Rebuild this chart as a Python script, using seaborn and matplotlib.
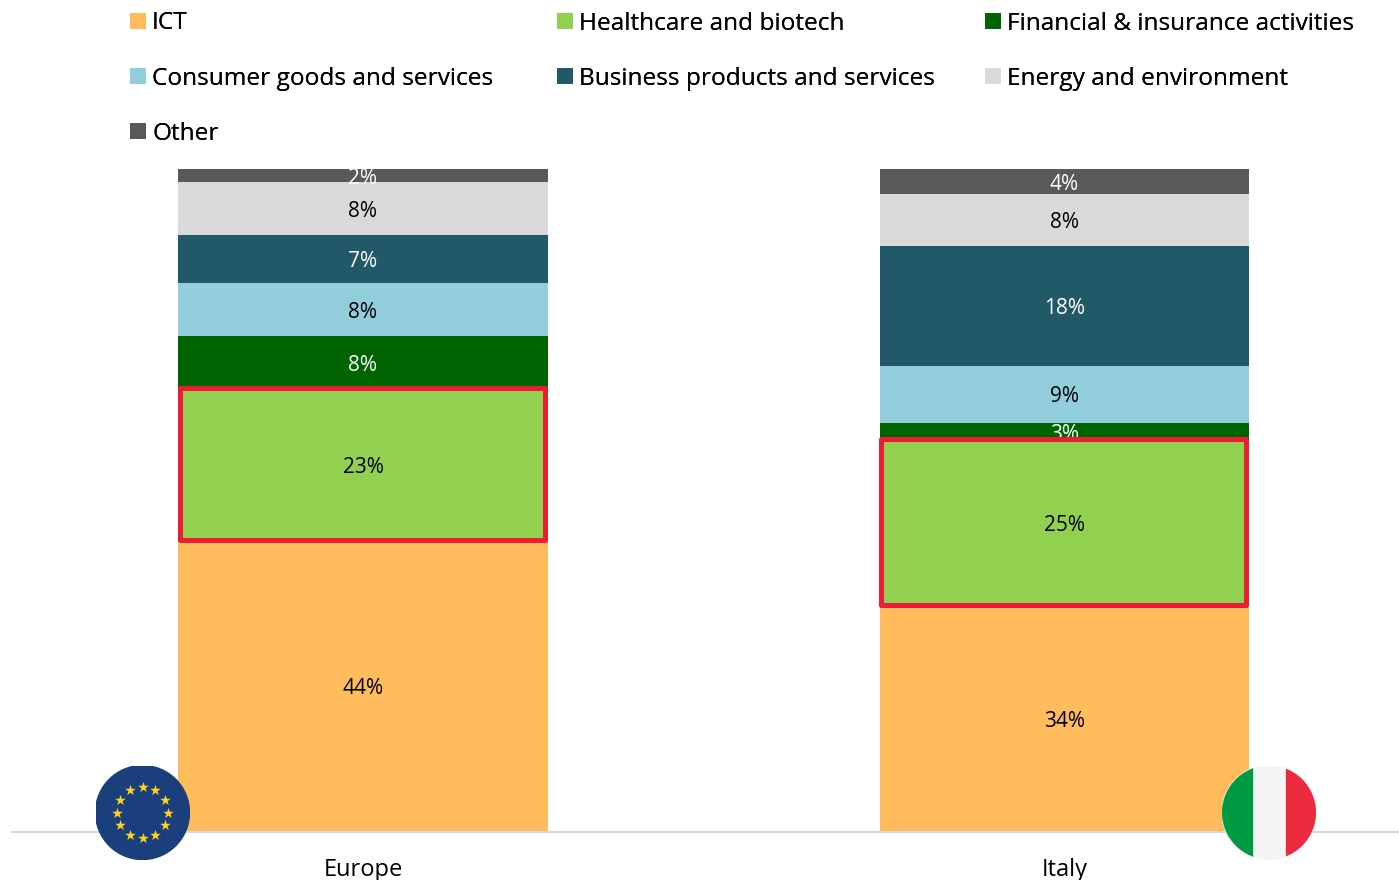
"""Stacked share of investments by sector, Europe vs Italy."""

import matplotlib.pyplot as plt
import numpy as np
import seaborn as sns
from matplotlib.patches import Circle, Patch, Rectangle

W, H = 1399, 880

REGIONS = ["Europe", "Italy"]
SECTORS = [
    "ICT",
    "Healthcare and biotech",
    "Financial & insurance activities",
    "Consumer goods and services",
    "Business products and services",
    "Energy and environment",
    "Other",
]
ICT = [43.9, 34.1]
HEALTHCARE = [22.9, 25.0]
FINANCIAL = [8.0, 2.6]
CONSUMER = [8.0, 8.6]
BUSINESS = [7.2, 18.1]
ENERGY = [8.0, 7.8]
OTHER = [2.0, 3.8]
SERIES = [ICT, HEALTHCARE, FINANCIAL, CONSUMER, BUSINESS, ENERGY, OTHER]

COLORS = ["#FFBB5C", "#92D050", "#006400", "#92CDDC", "#215968", "#D9D9D9", "#595959"]
LABEL_COLORS = ["black", "black", "white", "black", "white", "black", "white"]

sns.set_theme(style="white")
plt.rcParams["font.family"] = ["Open Sans", "DejaVu Sans"]


def add_flag_axes(fig, cx, cy, r=47):
    ax = fig.add_axes([(cx - r) / W, 1 - (cy + r) / H, 2 * r / W, 2 * r / H], zorder=5)
    ax.set_xlim(-1, 1)
    ax.set_ylim(-1, 1)
    ax.axis("off")
    return ax


def draw_eu_flag(fig, cx, cy):
    ax = add_flag_axes(fig, cx, cy)
    ax.add_patch(Circle((0, 0), 1, color="#1A3F7C"))
    angles = np.deg2rad(np.arange(0, 360, 30))
    ax.scatter(0.55 * np.cos(angles), 0.55 * np.sin(angles), marker="*", s=65,
               color="#FFD617", linewidths=0)


def draw_it_flag(fig, cx, cy):
    ax = add_flag_axes(fig, cx, cy)
    clip = Circle((0, 0), 1, color="#F5F5F5")
    ax.add_patch(clip)
    for x0, color in [(-1, "#009A44"), (0.36, "#EB2B3D")]:
        band = Rectangle((x0, -1), 0.64, 2, color=color)
        ax.add_patch(band)
        band.set_clip_path(clip)


fig = plt.figure(figsize=(W / 100, H / 100), dpi=100)
ax = fig.add_axes([12 / W, 1 - 832 / H, (W - 12) / W, (832 - 169) / H])

bottoms = np.zeros(len(REGIONS))
containers = []
for sector, values, color, label_color in zip(SECTORS, SERIES, COLORS, LABEL_COLORS):
    sns.barplot(x=REGIONS, y=values, bottom=bottoms, color=color, saturation=1,
                width=0.527, ax=ax, legend=False, linewidth=0)
    containers.append(ax.containers[-1])
    for i, val in enumerate(values):
        ax.text(i, bottoms[i] + val / 2, f"{val:.0f}%", ha="center", va="center_baseline",
                color=label_color, fontsize=15, clip_on=True, zorder=3)
    bottoms += values

# red box round the healthcare segment, sits over the labels
for bar in containers[1]:
    ax.add_patch(Rectangle((bar.get_x() + 0.002, bar.get_y() + 0.2), bar.get_width() - 0.006, bar.get_height(),
                           fill=False, edgecolor="#ED1C34", linewidth=3.6, joinstyle="round",
                           zorder=4, clip_on=False))

ax.set_xlim(-0.5004, 1.477)
ax.set_ylim(0, 100)
ax.set_yticks([])
ax.set_ylabel("")
ax.tick_params(axis="x", length=0, pad=18.7, labelsize=17, labelcolor="black")
sns.despine(ax=ax, left=True)
ax.spines["bottom"].set_color("#D9D9D9")
ax.spines["bottom"].set_linewidth(1.5)

# one legend per column so the columns line up like the original
legend_columns = [(130, [0, 3, 6]), (557, [1, 4]), (985, [2, 5])]
for x_px, idx in legend_columns:
    handles = [Patch(facecolor=COLORS[i], linewidth=0, label=SECTORS[i]) for i in idx]
    fig.add_artist(fig.legend(handles=handles, loc="upper left", bbox_to_anchor=(x_px / W, 1 - 11.5 / H),
                              frameon=False, fontsize=17.6, borderpad=0, borderaxespad=0,
                              handlelength=0.65, handleheight=0.65, handletextpad=0.25,
                              labelspacing=1.27, labelcolor="black"))

draw_eu_flag(fig, 142.5, 812.5)
draw_it_flag(fig, 1269, 812.5)

fig.savefig("out.png", dpi=100)
plt.close(fig)
print("Saved: out.png")
